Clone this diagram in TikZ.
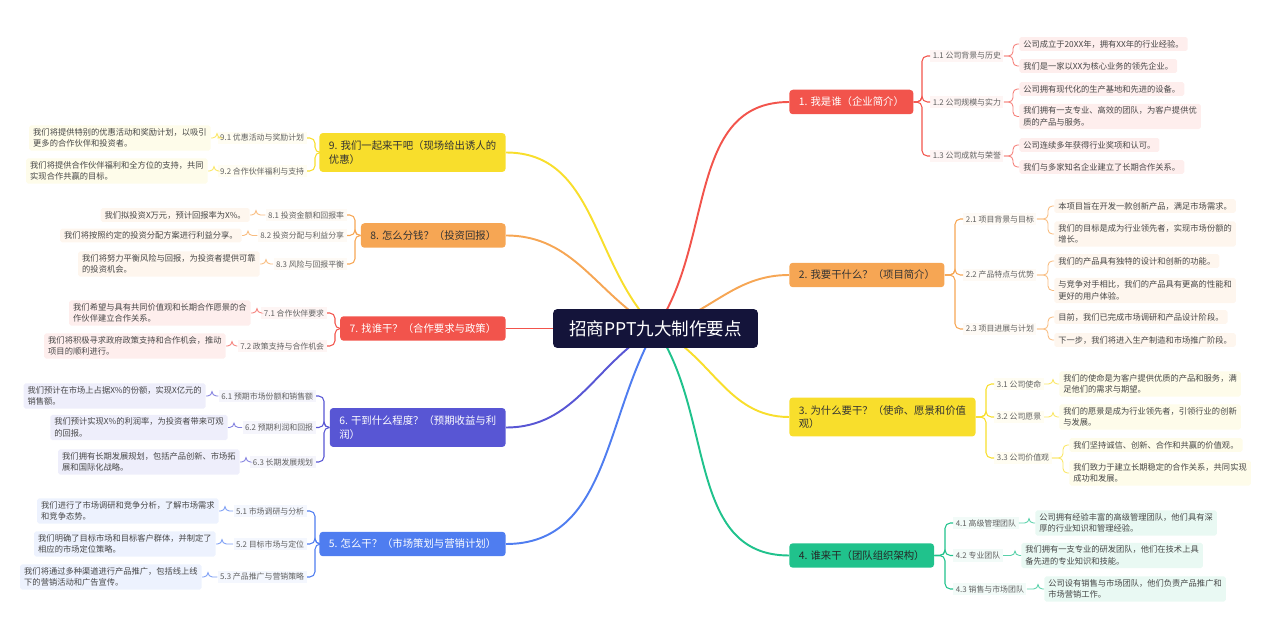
\documentclass[tikz,border=0pt]{standalone}
\usepackage{fontspec}
\setmainfont{Noto Sans CJK SC}
\usetikzlibrary{backgrounds}
\definecolor{mindNavy}{HTML}{14143A}
\definecolor{mindRed}{HTML}{F2544C}
\definecolor{mindOrange}{HTML}{F6A654}
\definecolor{mindYellow}{HTML}{F8DE2C}
\definecolor{mindGreen}{HTML}{20C28C}
\definecolor{mindIndigo}{HTML}{5856D4}
\definecolor{mindBlue}{HTML}{4F7DF0}

\begin{document}
\begin{tikzpicture}[
        x=0.02cm, y=-0.02cm,
        rootbox/.style={
            fill=mindNavy,
            text=white,
            rounded corners=2.5pt,
            minimum width=4.1cm,
            minimum height=0.78cm,
            font=\fontsize{10}{12}\selectfont
        },
        topicbox/.style={
            fill=#1,
            rounded corners=2pt,
            inner xsep=0.19cm,
            minimum height=0.49cm,
            align=left,
            font=\fontsize{5.9}{7.6}\selectfont
        },
        subtext/.style={
            fill=#1!6,
            text=black!62,
            inner xsep=0.05cm,
            inner ysep=0.05cm,
            font=\fontsize{4.5}{5.5}\selectfont
        },
        leafbox/.style={
            fill=#1!10,
            text=black!72,
            rounded corners=1pt,
            inner xsep=0.08cm,
            inner ysep=0.06cm,
            align=left,
            font=\fontsize{4.7}{6.5}\selectfont
        },
        rootlink/.style={draw=#1, line width=1.1pt},
        sublink/.style={draw=#1, line width=0.6pt, rounded corners=3pt},
        leaflink/.style={draw=#1!75, line width=0.5pt, rounded corners=2.5pt}
    ]
    \useasboundingbox (0,0) rectangle (1278,638);

    % mitte
    \node[rootbox] (centre) at (655.5,328.5) {招商PPT九大制作要点};

    % rechte seite
    \node[topicbox=mindRed, text=white, anchor=west] (t1) at (789,102) {1. 我是谁（企业简介）};
    \node[topicbox=mindOrange, text=black!80, anchor=west] (t2) at (789,275) {2. 我要干什么？（项目简介）};
    \node[topicbox=mindYellow, text=black!80, anchor=west, minimum height=0.78cm] (t3) at (789,417)
        {3. 为什么要干？（使命、愿景和价值\\观）};
    \node[topicbox=mindGreen, text=black!85, anchor=west] (t4) at (789,555.5) {4. 谁来干（团队组织架构）};

    % linke seite
    \node[topicbox=mindBlue, text=white, anchor=east] (t5) at (506,544) {5. 怎么干？（市场策划与营销计划）};
    \node[topicbox=mindIndigo, text=white, anchor=east, minimum height=0.78cm] (t6) at (506,427.5)
        {6. 干到什么程度？（预期收益与利\\润）};
    \node[topicbox=mindRed, text=white, anchor=east] (t7) at (506,328.5) {7. 找谁干？（合作要求与政策）};
    \node[topicbox=mindOrange, text=black!80, anchor=east] (t8) at (506,235.5) {8. 怎么分钱？（投资回报）};
    \node[topicbox=mindYellow, text=black!80, anchor=east, minimum height=0.78cm] (t9) at (506,152.5)
        {9. 我们一起来干吧（现场给出诱人的\\优惠）};

    % 1
    \node[subtext=mindRed, anchor=west] (s11) at (930,56) {1.1 公司背景与历史};
    \node[subtext=mindRed, anchor=west] (s12) at (930,102) {1.2 公司规模与实力};
    \node[subtext=mindRed, anchor=west] (s13) at (930,156) {1.3 公司成就与荣誉};
    \node[leafbox=mindRed, anchor=west] (l111) at (1019,44) {公司成立于20XX年，拥有XX年的行业经验。};
    \node[leafbox=mindRed, anchor=west] (l112) at (1019,66) {我们是一家以XX为核心业务的领先企业。};
    \node[leafbox=mindRed, anchor=west] (l121) at (1019,89) {公司拥有现代化的生产基地和先进的设备。};
    \node[leafbox=mindRed, anchor=west] (l122) at (1019,116.5)
        {我们拥有一支专业、高效的团队，为客户提供优\\质的产品与服务。};
    \node[leafbox=mindRed, anchor=west] (l131) at (1019,145) {公司连续多年获得行业奖项和认可。};
    \node[leafbox=mindRed, anchor=west] (l132) at (1019,167) {我们与多家知名企业建立了长期合作关系。};

    % 2
    \node[subtext=mindOrange, anchor=west] (s21) at (963,219) {2.1 项目背景与目标};
    \node[subtext=mindOrange, anchor=west] (s22) at (963,275) {2.2 产品特点与优势};
    \node[subtext=mindOrange, anchor=west] (s23) at (963,329) {2.3 项目进展与计划};
    \node[leafbox=mindOrange, anchor=west] (l211) at (1054,206) {本项目旨在开发一款创新产品，满足市场需求。};
    \node[leafbox=mindOrange, anchor=west] (l212) at (1054,234)
        {我们的目标是成为行业领先者，实现市场份额的\\增长。};
    \node[leafbox=mindOrange, anchor=west] (l221) at (1054,261) {我们的产品具有独特的设计和创新的功能。};
    \node[leafbox=mindOrange, anchor=west] (l222) at (1054,290.5)
        {与竞争对手相比，我们的产品具有更高的性能和\\更好的用户体验。};
    \node[leafbox=mindOrange, anchor=west] (l231) at (1054,317) {目前，我们已完成市场调研和产品设计阶段。};
    \node[leafbox=mindOrange, anchor=west] (l232) at (1054,340) {下一步，我们将进入生产制造和市场推广阶段。};

    % 3
    \node[subtext=mindYellow, anchor=west] (s31) at (994,384) {3.1 公司使命};
    \node[subtext=mindYellow, anchor=west] (s32) at (994,417) {3.2 公司愿景};
    \node[subtext=mindYellow, anchor=west] (s33) at (994,458) {3.3 公司价值观};
    \node[leafbox=mindYellow, anchor=west] (l311) at (1059,384)
        {我们的使命是为客户提供优质的产品和服务，满\\足他们的需求与期望。};
    \node[leafbox=mindYellow, anchor=west] (l321) at (1059,417)
        {我们的愿景是成为行业领先者，引领行业的创新\\与发展。};
    \node[leafbox=mindYellow, anchor=west] (l331) at (1069,445) {我们坚持诚信、创新、合作和共赢的价值观。};
    \node[leafbox=mindYellow, anchor=west] (l332) at (1069,473)
        {我们致力于建立长期稳定的合作关系，共同实现\\成功和发展。};

    % 4
    \node[subtext=mindGreen, anchor=west] (s41) at (953,523) {4.1 高级管理团队};
    \node[subtext=mindGreen, anchor=west] (s42) at (953,555.5) {4.2 专业团队};
    \node[subtext=mindGreen, anchor=west] (s43) at (953,589) {4.3 销售与市场团队};
    \node[leafbox=mindGreen, anchor=west] (l411) at (1035,523)
        {公司拥有经验丰富的高级管理团队，他们具有深\\厚的行业知识和管理经验。};
    \node[leafbox=mindGreen, anchor=west] (l421) at (1021,555.5)
        {我们拥有一支专业的研发团队，他们在技术上具\\备先进的专业知识和技能。};
    \node[leafbox=mindGreen, anchor=west] (l431) at (1044,589)
        {公司设有销售与市场团队，他们负责产品推广和\\市场营销工作。};

    % 5
    \node[subtext=mindBlue, anchor=east] (s51) at (307,511) {5.1 市场调研与分析};
    \node[subtext=mindBlue, anchor=east] (s52) at (307,544) {5.2 目标市场与定位};
    \node[subtext=mindBlue, anchor=east] (s53) at (307,577) {5.3 产品推广与营销策略};
    \node[leafbox=mindBlue, anchor=east] (l511) at (219,511)
        {我们进行了市场调研和竞争分析，了解市场需求\\和竞争态势。};
    \node[leafbox=mindBlue, anchor=east] (l521) at (216,544)
        {我们明确了目标市场和目标客户群体，并制定了\\相应的市场定位策略。};
    \node[leafbox=mindBlue, anchor=east] (l531) at (202,577)
        {我们将通过多种渠道进行产品推广，包括线上线\\下的营销活动和广告宣传。};

    % 6
    \node[subtext=mindIndigo, anchor=east] (s61) at (316,396) {6.1 预期市场份额和销售额};
    \node[subtext=mindIndigo, anchor=east] (s62) at (316,427.5) {6.2 预期利润和回报};
    \node[subtext=mindIndigo, anchor=east] (s63) at (316,462) {6.3 长期发展规划};
    \node[leafbox=mindIndigo, anchor=east] (l611) at (206,396)
        {我们预计在市场上占据X\%的份额，实现X亿元的\\销售额。};
    \node[leafbox=mindIndigo, anchor=east] (l621) at (228,427.5)
        {我们预计实现X\%的利润率，为投资者带来可观\\的回报。};
    \node[leafbox=mindIndigo, anchor=east] (l631) at (240,462)
        {我们拥有长期发展规划，包括产品创新、市场拓\\展和国际化战略。};

    % 7
    \node[subtext=mindRed, anchor=east] (s71) at (327,313) {7.1 合作伙伴要求};
    \node[subtext=mindRed, anchor=east] (s72) at (327,346) {7.2 政策支持与合作机会};
    \node[leafbox=mindRed, anchor=east] (l711) at (251,313)
        {我们希望与具有共同价值观和长期合作愿景的合\\作伙伴建立合作关系。};
    \node[leafbox=mindRed, anchor=east] (l721) at (226,346)
        {我们将积极寻求政府政策支持和合作机会，推动\\项目的顺利进行。};

    % 8
    \node[subtext=mindOrange, anchor=east] (s81) at (347,215) {8.1 投资金额和回报率};
    \node[subtext=mindOrange, anchor=east] (s82) at (347,235.5) {8.2 投资分配与利益分享};
    \node[subtext=mindOrange, anchor=east] (s83) at (347,264) {8.3 风险与回报平衡};
    \node[leafbox=mindOrange, anchor=east] (l811) at (250,215) {我们拟投资X万元，预计回报率为X\%。};
    \node[leafbox=mindOrange, anchor=east] (l821) at (242,235.5) {我们将按照约定的投资分配方案进行利益分享。};
    \node[leafbox=mindOrange, anchor=east] (l831) at (260,264)
        {我们将努力平衡风险与回报，为投资者提供可靠\\的投资机会。};

    % 9
    \node[subtext=mindYellow, anchor=east] (s91) at (307,138) {9.1 优惠活动与奖励计划};
    \node[subtext=mindYellow, anchor=east] (s92) at (307,171) {9.2 合作伙伴福利与支持};
    \node[leafbox=mindYellow, anchor=east] (l911) at (211,138)
        {我们将提供特别的优惠活动和奖励计划，以吸引\\更多的合作伙伴和投资者。};
    \node[leafbox=mindYellow, anchor=east] (l921) at (208,171)
        {我们将提供合作伙伴福利和全方位的支持，共同\\实现合作共赢的目标。};

    \begin{scope}[on background layer]
        % aeste von der mitte
        \draw[rootlink=mindRed] (centre.center) to[out=55,in=180] (t1.west);
        \draw[rootlink=mindOrange] (centre.center) to[out=14,in=180] (t2.west);
        \draw[rootlink=mindYellow] (centre.center) to[out=-25,in=180] (t3.west);
        \draw[rootlink=mindGreen] (centre.center) to[out=-55,in=180] (t4.west);
        \draw[rootlink=mindBlue] (centre.center) to[out=-120,in=0] (t5.east);
        \draw[rootlink=mindIndigo] (centre.center) to[out=-150,in=0] (t6.east);
        \draw[rootlink=mindRed] (centre.center) -- (t7.east);
        \draw[rootlink=mindOrange] (centre.center) to[out=150,in=0] (t8.east);
        \draw[rootlink=mindYellow] (centre.center) to[out=135,in=0] (t9.east);
    \end{scope}

    % klammern rechts
    \foreach \t/\c/\subs in {t1/mindRed/{s11,s12,s13}, t2/mindOrange/{s21,s22,s23},
                            t3/mindYellow/{s31,s32,s33}, t4/mindGreen/{s41,s42,s43}}
        \foreach \s in \subs
            \draw[sublink=\c] (\s.west) -- ++(-8,0) |- (\t.east);

    \foreach \l/\s/\c in {l111/s11/mindRed, l112/s11/mindRed, l121/s12/mindRed,
                          l122/s12/mindRed, l131/s13/mindRed, l132/s13/mindRed,
                          l211/s21/mindOrange, l212/s21/mindOrange, l221/s22/mindOrange,
                          l222/s22/mindOrange, l231/s23/mindOrange, l232/s23/mindOrange,
                          l311/s31/mindYellow, l321/s32/mindYellow, l331/s33/mindYellow,
                          l332/s33/mindYellow, l411/s41/mindGreen, l421/s42/mindGreen,
                          l431/s43/mindGreen}
        \draw[leaflink=\c] (\l.west) -- ++(-6,0) |- (\s.east);

    % klammern links
    \foreach \t/\c/\subs in {t5/mindBlue/{s51,s52,s53}, t6/mindIndigo/{s61,s62,s63},
                            t7/mindRed/{s71,s72}, t8/mindOrange/{s81,s82,s83},
                            t9/mindYellow/{s91,s92}}
        \foreach \s in \subs
            \draw[sublink=\c] (\s.east) -- ++(8,0) |- (\t.west);

    \foreach \l/\s/\c in {l511/s51/mindBlue, l521/s52/mindBlue, l531/s53/mindBlue,
                          l611/s61/mindIndigo, l621/s62/mindIndigo, l631/s63/mindIndigo,
                          l711/s71/mindRed, l721/s72/mindRed,
                          l811/s81/mindOrange, l821/s82/mindOrange, l831/s83/mindOrange,
                          l911/s91/mindYellow, l921/s92/mindYellow}
        \draw[leaflink=\c] (\l.east) -- ++(6,0) |- (\s.west);

\end{tikzpicture}
\end{document}
